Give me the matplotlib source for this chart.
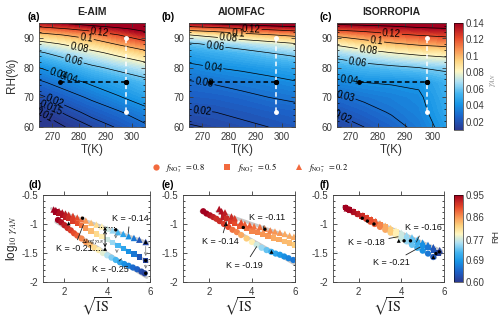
import numpy as np
import matplotlib
matplotlib.use('Agg')
import matplotlib.pyplot as plt
from matplotlib.colors import LinearSegmentedColormap, Normalize
from matplotlib.cm import ScalarMappable
from matplotlib.lines import Line2D
from matplotlib.ticker import MultipleLocator

plt.rcParams['font.family'] = ['Liberation Sans', 'DejaVu Sans']
plt.rcParams['mathtext.fontset'] = 'stix'

# ---------------- top row data: gamma_AN vs T and RH ----------------
T_grid = [265, 275, 285, 295, 305]
RH_grid = [60, 65, 70, 75, 80, 85, 88, 91, 93, 95]
gamma_eaim = [
    [0.006, 0.010, 0.015, 0.021, 0.028],
    [0.010, 0.016, 0.023, 0.029, 0.036],
    [0.018, 0.025, 0.032, 0.039, 0.046],
    [0.028, 0.035, 0.042, 0.048, 0.055],
    [0.040, 0.048, 0.057, 0.064, 0.071],
    [0.058, 0.067, 0.076, 0.085, 0.095],
    [0.074, 0.082, 0.091, 0.102, 0.113],
    [0.094, 0.101, 0.108, 0.120, 0.133],
    [0.112, 0.119, 0.127, 0.136, 0.145],
    [0.135, 0.142, 0.150, 0.155, 0.160],
]
gamma_aiomfac = [
    [0.014, 0.016, 0.018, 0.020, 0.022],
    [0.019, 0.020, 0.022, 0.024, 0.026],
    [0.024, 0.025, 0.027, 0.030, 0.032],
    [0.029, 0.031, 0.034, 0.036, 0.039],
    [0.037, 0.040, 0.042, 0.045, 0.048],
    [0.047, 0.051, 0.055, 0.060, 0.064],
    [0.058, 0.063, 0.068, 0.073, 0.079],
    [0.080, 0.086, 0.093, 0.099, 0.104],
    [0.107, 0.112, 0.118, 0.123, 0.128],
    [0.140, 0.145, 0.150, 0.155, 0.160],
]
gamma_isorropia = [
    [0.015, 0.020, 0.026, 0.033, 0.045],
    [0.021, 0.026, 0.031, 0.036, 0.048],
    [0.028, 0.032, 0.035, 0.038, 0.050],
    [0.037, 0.040, 0.041, 0.042, 0.052],
    [0.050, 0.054, 0.057, 0.060, 0.063],
    [0.067, 0.074, 0.080, 0.084, 0.087],
    [0.083, 0.091, 0.098, 0.103, 0.106],
    [0.104, 0.111, 0.117, 0.121, 0.124],
    [0.124, 0.127, 0.131, 0.135, 0.138],
    [0.145, 0.148, 0.150, 0.155, 0.160],
]
contour_levels = [0.01, 0.015, 0.02, 0.03, 0.04, 0.06, 0.08, 0.1, 0.12, 0.14]
label_levels = [
    [0.01, 0.015, 0.02, 0.03, 0.04, 0.06, 0.08, 0.1, 0.12],
    [0.02, 0.03, 0.04, 0.06, 0.08, 0.1, 0.12],
    [0.02, 0.03, 0.04, 0.06, 0.08, 0.1, 0.12],
]
path_T = [273, 298]
path_RH = [75, 75]
vert_T = [298, 298]
vert_RH = [65, 90]
gamma_ticks = [0.02, 0.04, 0.06, 0.08, 0.1, 0.12, 0.14]
gamma_ticklabels = ['0.02', '0.04', '0.06', '0.08', '0.1', '0.12', '0.14']
titles = ['E-AIM', 'AIOMFAC', 'ISORROPIA']

# ---------------- bottom row data: log10 gamma vs sqrt(IS) ----------------
d_cir_x = [1.7, 1.85, 2.0, 2.15, 2.3, 2.45, 2.6, 2.8, 3.0, 3.2, 3.4, 3.6, 3.8, 4.0, 4.2, 4.4, 4.6, 4.8, 5.0, 5.2, 5.4, 5.6, 5.75]
d_cir_y = [-0.93, -0.97, -1.02, -1.07, -1.11, -1.16, -1.20, -1.25, -1.31, -1.36, -1.41, -1.45, -1.50, -1.54, -1.58, -1.62, -1.66, -1.69, -1.72, -1.75, -1.78, -1.82, -1.85]
d_cir_rh = [0.95, 0.94, 0.93, 0.92, 0.91, 0.9, 0.89, 0.87, 0.86, 0.84, 0.82, 0.8, 0.78, 0.76, 0.74, 0.72, 0.7, 0.68, 0.67, 0.65, 0.64, 0.62, 0.61]
d_sq_x = [1.6, 1.75, 1.9, 2.05, 2.2, 2.4, 2.6, 2.8, 3.0, 3.25, 3.5, 3.75, 4.0, 4.25, 4.5, 4.75, 5.0, 5.25, 5.5, 5.8]
d_sq_y = [-0.79, -0.82, -0.85, -0.88, -0.91, -0.95, -0.99, -1.03, -1.07, -1.12, -1.17, -1.22, -1.27, -1.32, -1.37, -1.42, -1.47, -1.52, -1.57, -1.63]
d_sq_rh = [0.95, 0.94, 0.94, 0.93, 0.92, 0.91, 0.9, 0.88, 0.86, 0.84, 0.82, 0.8, 0.77, 0.75, 0.72, 0.7, 0.68, 0.66, 0.63, 0.61]
d_tri_x = [1.5, 1.6, 1.75, 1.9, 2.05, 2.2, 2.4, 2.6, 2.8, 3.0, 3.25, 3.5, 3.75, 4.0, 4.25, 4.5, 4.75, 5.0, 5.25, 5.5, 5.8]
d_tri_y = [-0.75, -0.76, -0.78, -0.80, -0.82, -0.84, -0.86, -0.89, -0.92, -0.94, -0.98, -1.01, -1.04, -1.08, -1.11, -1.14, -1.17, -1.21, -1.24, -1.27, -1.31]
d_tri_rh = [0.95, 0.95, 0.94, 0.94, 0.93, 0.92, 0.91, 0.9, 0.88, 0.86, 0.84, 0.82, 0.8, 0.77, 0.75, 0.72, 0.7, 0.68, 0.66, 0.63, 0.61]

e_cir_x = [1.74, 1.89, 2.05, 2.2, 2.35, 2.5, 2.7, 2.9, 3.1, 3.3, 3.5, 3.75, 4.0, 4.22, 4.45, 4.68, 4.9, 5.1, 5.3, 5.5, 5.7, 5.92]
e_cir_y = [-0.78, -0.82, -0.85, -0.88, -0.91, -0.95, -1.0, -1.05, -1.1, -1.14, -1.19, -1.25, -1.31, -1.36, -1.41, -1.45, -1.48, -1.51, -1.53, -1.56, -1.59, -1.62]
e_cir_rh = [0.95, 0.95, 0.94, 0.93, 0.92, 0.92, 0.91, 0.9, 0.88, 0.87, 0.85, 0.83, 0.8, 0.77, 0.75, 0.73, 0.71, 0.7, 0.69, 0.68, 0.67, 0.66]
e_sq_x = [2.67, 2.82, 3.0, 3.2, 3.45, 3.75, 4.0, 4.25, 4.5, 4.75, 5.0, 5.25, 5.5, 5.75, 6.0]
e_sq_y = [-0.88, -0.91, -0.95, -0.99, -1.04, -1.08, -1.12, -1.15, -1.18, -1.21, -1.24, -1.27, -1.3, -1.33, -1.36]
e_sq_rh = [0.93, 0.92, 0.91, 0.9, 0.89, 0.88, 0.87, 0.87, 0.86, 0.86, 0.85, 0.85, 0.84, 0.84, 0.83]
e_tri_x = [2.48, 2.59, 2.75, 3.05, 3.2, 3.5, 3.67, 3.9, 4.1, 4.37, 4.6, 4.85, 5.07, 5.3, 5.53, 5.75, 5.95]
e_tri_y = [-0.74, -0.78, -0.8, -0.87, -0.9, -0.97, -1.0, -1.02, -1.04, -1.05, -1.08, -1.11, -1.13, -1.15, -1.17, -1.2, -1.22]
e_tri_rh = [0.94, 0.94, 0.93, 0.92, 0.91, 0.9, 0.89, 0.89, 0.88, 0.88, 0.87, 0.87, 0.86, 0.86, 0.85, 0.85, 0.85]

f_cir_x = [1.4, 1.55, 1.75, 1.95, 2.15, 2.35, 2.55, 2.75, 3.0, 3.25, 3.5, 3.75, 4.0, 4.25, 4.5, 4.75, 5.0, 5.25, 5.5]
f_cir_y = [-0.72, -0.75, -0.79, -0.83, -0.87, -0.91, -0.96, -1.0, -1.05, -1.1, -1.15, -1.2, -1.25, -1.3, -1.36, -1.41, -1.46, -1.51, -1.57]
f_cir_rh = [0.95, 0.95, 0.94, 0.93, 0.92, 0.91, 0.9, 0.89, 0.87, 0.85, 0.83, 0.8, 0.77, 0.75, 0.73, 0.71, 0.68, 0.66, 0.63]
f_sq_x = [1.4, 1.55, 1.75, 1.95, 2.15, 2.35, 2.55, 2.75, 3.0, 3.25, 3.5, 3.75, 4.0, 4.25, 4.5, 4.75, 5.0, 5.25, 5.5, 5.75]
f_sq_y = [-0.72, -0.75, -0.78, -0.82, -0.86, -0.89, -0.93, -0.96, -1.01, -1.05, -1.1, -1.14, -1.19, -1.23, -1.28, -1.32, -1.37, -1.41, -1.46, -1.5]
f_sq_rh = [0.95, 0.95, 0.94, 0.93, 0.92, 0.91, 0.9, 0.89, 0.87, 0.85, 0.83, 0.8, 0.77, 0.75, 0.73, 0.71, 0.68, 0.66, 0.63, 0.61]
f_tri_x = [1.45, 1.6, 1.8, 2.0, 2.2, 2.4, 2.6, 2.8, 3.0, 3.25, 3.5, 3.75, 4.0, 4.25, 4.5, 4.75, 5.0, 5.25, 5.5, 5.8]
f_tri_y = [-0.73, -0.755, -0.79, -0.82, -0.85, -0.89, -0.92, -0.95, -0.99, -1.03, -1.07, -1.11, -1.15, -1.19, -1.23, -1.27, -1.32, -1.36, -1.4, -1.45]
f_tri_rh = [0.95, 0.95, 0.94, 0.93, 0.92, 0.91, 0.9, 0.89, 0.87, 0.85, 0.83, 0.8, 0.77, 0.75, 0.73, 0.71, 0.68, 0.66, 0.63, 0.61]

d_bk_tri_x = [2.2, 3.9, 3.9, 5.8]
d_bk_tri_y = [-0.99, -1.08, -1.43, -1.31]
d_bk_dot_x = [2.85, 4.4, 5.8, 5.8]
d_bk_dot_y = [-0.9, -1.1, -1.63, -1.85]
e_bk_tri_x = [2.79, 4.91]
e_bk_tri_y = [-1.0, -1.48]
e_bk_dot_x = [3.6, 4.6]
e_bk_dot_y = [-1.06, -1.09]
f_bk_tri_x = [3.88, 5.5]
f_bk_tri_y = [-1.29, -1.57]
f_bk_dot_x = [2.17, 2.41, 2.72, 4.13, 4.43, 5.62, 5.78]
f_bk_dot_y = [-0.9, -0.95, -1.0, -1.29, -1.29, -1.51, -1.48]

f_no3 = ['0.8', '0.5', '0.2']
rh_ticks = [0.60, 0.69, 0.77, 0.86, 0.95]
rh_ticklabels = ['0.60', '0.69', '0.77', '0.86', '0.95']

# ---------------- styling ----------------
cmap = LinearSegmentedColormap.from_list('gam', [
    (0.0, '#2a3990'), (0.12, '#1c62c8'), (0.24, '#1895e6'), (0.34, '#45b5f0'),
    (0.45, '#aee0f3'), (0.55, '#fff7c2'), (0.65, '#fdd27e'), (0.75, '#f89352'),
    (0.86, '#e64a2b'), (1.0, '#a2001f')])
gnorm = Normalize(0.01, 0.14)
rnorm = Normalize(0.60, 0.95)
tick_col = '#3a3a3a'

fig = plt.figure(figsize=(5, 3.18), dpi=100)
W, H = 500.0, 318.0

def ax_px(l, t, r, b):
    return fig.add_axes([l / W, 1 - b / H, (r - l) / W, (b - t) / H])

top_boxes = [(39, 23, 145, 127), (189, 23, 295, 127), (337, 23, 446, 127)]
fields = [gamma_eaim, gamma_aiomfac, gamma_isorropia]
label_pos = [
    [(267, 63.7), (269.6, 66.8), (271.5, 70), (275.4, 74.8), (276, 79), (278.6, 84.2), (280.5, 88.2), (283, 91), (288, 92.5)],
    [(269.7, 64.3), (270.7, 74.5), (274, 79.7), (274.7, 86.5), (279.8, 89.9), (283.5, 91.6), (288.5, 93.3)],
    [(267.2, 63.6), (268.4, 71.2), (269.7, 76.1), (272.7, 82.7), (276.4, 86.5), (279.5, 89.2), (285, 91.4)],
]
panel_lbl_top = [('(a)', -0.05), ('(b)', -0.2), ('(c)', -0.1)]
TT, RR = np.meshgrid(T_grid, RH_grid)
for i, box in enumerate(top_boxes):
    ax = ax_px(*box)
    Z = np.array(fields[i])
    ax.contourf(TT, RR, Z, levels=np.linspace(0.004, 0.166, 80), cmap=cmap, norm=gnorm, extend='both')
    other = [v for v in contour_levels if v not in label_levels[i]]
    ax.contour(TT, RR, Z, levels=other, colors='k', linewidths=0.5)
    cs = ax.contour(TT, RR, Z, levels=label_levels[i], colors='k', linewidths=0.5)
    ax.clabel(cs, manual=label_pos[i], inline=True, fontsize=7,
              fmt=lambda v: f'{v:g}', inline_spacing=1)
    ax.plot(path_T, path_RH, ls='--', color='k', lw=1.1, marker='o', ms=2.5, dashes=(3, 2))
    ax.plot(vert_T, vert_RH, ls='--', color='white', lw=1.1, marker='o', ms=2.5, dashes=(3, 2))
    ax.plot([path_T[1]], [path_RH[1]], 'o', color='k', ms=2.8)
    ax.set_xlim(265, 305)
    ax.set_ylim(60, 95)
    ax.set_xticks([270, 280, 290, 300])
    ax.set_yticks([60, 70, 80, 90])
    ax.yaxis.set_minor_locator(MultipleLocator(2))
    ax.tick_params(direction='in', top=True, right=True, labelsize=7, colors=tick_col,
                   length=3, width=0.6)
    ax.tick_params(which='minor', direction='in', right=True, left=True, length=1.5, width=0.5)
    for s in ax.spines.values():
        s.set_linewidth(0.6)
        s.set_color('#444444')
    ax.set_title(titles[i], fontsize=7.5, fontweight='bold', pad=6, color='#222222')
    ax.text(panel_lbl_top[i][1], 1.06, panel_lbl_top[i][0], transform=ax.transAxes,
            ha='center', va='center', fontsize=7.5, fontweight='bold')
    ax.set_xlabel('T(K)', fontsize=8.5, color='#333333')
    ax.xaxis.set_label_coords(0.5, -0.16)
    if i == 0:
        ax.set_ylabel('RH(%)', fontsize=8.5, color='#333333')
        ax.yaxis.set_label_coords(-0.2, 0.5)

cax1 = ax_px(454, 23, 463, 130)
cb1 = fig.colorbar(ScalarMappable(norm=gnorm, cmap=cmap), cax=cax1)
cb1.set_ticks(gamma_ticks)
cb1.set_ticklabels(gamma_ticklabels)
cb1.ax.tick_params(labelsize=7, colors=tick_col, length=0, pad=2)
cb1.outline.set_linewidth(0.4)
cax1.text(4.35, 0.47, r'$\gamma_{AN}$', transform=cax1.transAxes, rotation=90,
          ha='center', va='center', fontsize=6.5, color='#888888')

# legend
leg_col = '#f26a3e'
handles = [Line2D([], [], ls='none', marker=m, color=leg_col, markersize=ms, markeredgewidth=0)
           for m, ms in zip(['o', 's', '^'], [4.5, 4, 4.5])]
labels = [r'$f_{\mathrm{NO_3^{-}}}\ \ = %s$' % v for v in f_no3]
fig.legend(handles, labels, loc='center', bbox_to_anchor=(0.5, 1 - 168 / H), ncol=3,
           frameon=False, fontsize=6, columnspacing=2.2, handletextpad=0.6, handlelength=1.0)

# bottom panels
bot_boxes = [(43, 195, 150, 282), (183, 195, 295, 282), (333, 195, 444, 282)]
bot_xlim = [(1, 6), (0.8, 6), (0.8, 6)]
series = [
    [(d_cir_x, d_cir_y, d_cir_rh), (d_sq_x, d_sq_y, d_sq_rh), (d_tri_x, d_tri_y, d_tri_rh)],
    [(e_cir_x, e_cir_y, e_cir_rh), (e_sq_x, e_sq_y, e_sq_rh), (e_tri_x, e_tri_y, e_tri_rh)],
    [(f_cir_x, f_cir_y, f_cir_rh), (f_sq_x, f_sq_y, f_sq_rh), (f_tri_x, f_tri_y, f_tri_rh)],
]
blacks = [
    (d_bk_tri_x, d_bk_tri_y, d_bk_dot_x, d_bk_dot_y),
    (e_bk_tri_x, e_bk_tri_y, e_bk_dot_x, e_bk_dot_y),
    (f_bk_tri_x, f_bk_tri_y, f_bk_dot_x, f_bk_dot_y),
]
markers = [('o', 20), ('s', 15), ('^', 22)]
annots = [
    [('K = -0.14', (4.98, -1.16), (5.06, -0.9)),
     ('K = -0.21', (2.89, -1.01), (2.45, -1.42)),
     ('K = -0.25', (4.67, -1.6), (4.13, -1.78))],
    [('K = -0.11', (4.53, -1.07), (4.68, -0.88)),
     ('K = -0.14', (2.82, -0.96), (2.55, -1.3)),
     ('K = -0.19', (4.22, -1.39), (3.67, -1.71))],
    [('K = -0.16', (4.71, -1.31), (5.03, -1.06)),
     ('K = -0.18', (3.85, -1.22), (2.36, -1.32)),
     ('K = -0.21', (4.87, -1.4), (3.54, -1.67))],
]
panel_lbl_bot = [('(d)', -0.075), ('(e)', -0.14), ('(f)', -0.08)]
for i, box in enumerate(bot_boxes):
    ax = ax_px(*box)
    for (sx, sy, srh) in series[i]:
        k, b0 = np.polyfit(sx, sy, 1)
        xx = np.array([min(sx) - 0.1, max(sx) + 0.1])
        ax.plot(xx, k * xx + b0, color='#c9c9c9', lw=2.2, zorder=1, solid_capstyle='round')
    for (sx, sy, srh), (m, s) in zip(series[i], markers):
        ax.scatter(sx, sy, c=srh, cmap=cmap, norm=rnorm, marker=m, s=s, edgecolors='none', zorder=2)
    btx, bty, bdx, bdy = blacks[i]
    ax.scatter(btx, bty, marker='^', s=8, color='k', zorder=4, edgecolors='none')
    ax.scatter(bdx, bdy, marker='o', s=6, color='k', zorder=4, edgecolors='none')
    for txt, xy, xyt in annots[i]:
        ax.annotate(txt, xy=xy, xytext=xyt, ha='center', va='center', fontsize=6.5,
                    color='#111111', zorder=5,
                    arrowprops=dict(arrowstyle='-', color='#222222', lw=0.6, shrinkA=1, shrinkB=0))
    if i == 0:
        ax.annotate('', xy=(3.9, -1.06), xytext=(3.9, -1.45),
                    arrowprops=dict(arrowstyle='<->', color='k', lw=0.6, mutation_scale=5), zorder=5)
        ax.plot([3.55, 4.4], [-1.06, -1.06], ls=':', color='k', lw=0.7, zorder=5)
        ax.plot([3.1, 3.9], [-1.45, -1.45], ls=':', color='k', lw=0.7, zorder=5)
        ax.text(3.35, -1.29, r'$\Delta\log\gamma_{AN}$', fontsize=4.5, ha='center', va='center', zorder=5)
        for x0, y0, y1 in [(4.4, -1.12, -1.3), (5.8, -1.34, -1.6), (5.8, -1.66, -1.82), (4.45, -1.4, -1.55)]:
            ax.annotate('', xy=(x0, y1), xytext=(x0, y0),
                        arrowprops=dict(arrowstyle='->', color='#777777', lw=0.5, mutation_scale=5), zorder=3)
    ax.set_xlim(*bot_xlim[i])
    ax.set_ylim(-2, -0.5)
    ax.set_xticks([2, 4, 6])
    ax.set_yticks([-2, -1.5, -1, -0.5])
    ax.set_yticklabels(['-2', '-1.5', '-1', '-0.5'])
    ax.yaxis.set_minor_locator(MultipleLocator(0.1))
    ax.tick_params(direction='in', right=True, labelsize=7, colors=tick_col, length=3, width=0.6)
    ax.tick_params(which='minor', direction='in', right=True, left=True, length=1.5, width=0.5)
    sec = ax.secondary_xaxis('top')
    sec.set_xticks([2, 4, 6])
    sec.tick_params(direction='out', labeltop=False, length=3, width=0.6, colors=tick_col)
    for s in list(ax.spines.values()) + list(sec.spines.values()):
        s.set_linewidth(0.6)
        s.set_color('#444444')
    ax.text(panel_lbl_bot[i][1], 1.12, panel_lbl_bot[i][0], transform=ax.transAxes,
            ha='center', va='center', fontsize=7.5, fontweight='bold')
    ax.set_xlabel(r'$\sqrt{\mathrm{IS}}$', fontsize=10, color='#222222')
    ax.xaxis.set_label_coords(0.5, -0.16)
    if i == 0:
        ax.set_ylabel(r'log$_{10}$ $\gamma_{AN}$', fontsize=8.5, color='#222222')
        ax.yaxis.set_label_coords(-0.215, 0.5)

cax2 = ax_px(454, 195, 463, 282)
cb2 = fig.colorbar(ScalarMappable(norm=rnorm, cmap=cmap), cax=cax2)
cb2.set_ticks(rh_ticks)
cb2.set_ticklabels(rh_ticklabels)
cb2.ax.tick_params(labelsize=7, colors=tick_col, length=0, pad=2)
cb2.outline.set_linewidth(0.4)
cax2.text(4.6, 0.52, 'RH', transform=cax2.transAxes, rotation=90,
          ha='center', va='center', fontsize=6.5, color='#333333')

fig.savefig('out.png', dpi=100)
